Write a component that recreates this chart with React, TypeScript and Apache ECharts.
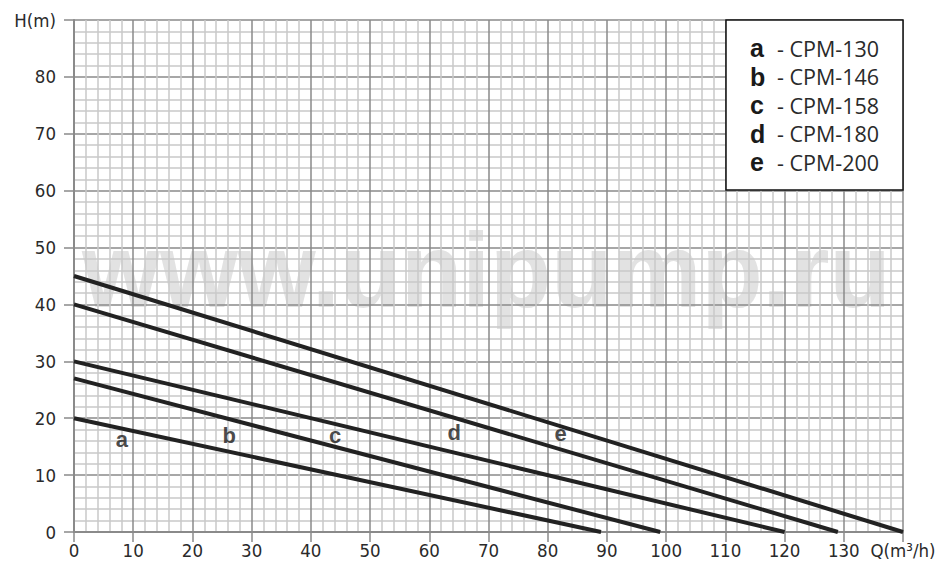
import React, { useEffect, useRef } from "react";
import * as echarts from "echarts";

const curveLetters = ["a", "b", "c", "d", "e"];
const modelNames = ["CPM-130", "CPM-146", "CPM-158", "CPM-180", "CPM-200"];
const curveA = [[0, 20], [89, 0]];
const curveB = [[0, 27], [99, 0]];
const curveC = [[0, 30], [120, 0]];
const curveD = [[0, 40], [129, 0]];
const curveE = [[0, 45], [140, 0]];
const curves = [curveA, curveB, curveC, curveD, curveE];
const letterQ = [8.1, 26.2, 44.1, 64.2, 82.2];
const letterH = [16.2, 17, 17, 17.5, 17.3];
const xMax = 140;
const yMax = 90;
const xName = "Q(m³/h)";
const yName = "H(m)";
const watermark = "www.unipump.ru";

export default function App() {
  const ref = useRef<HTMLDivElement>(null);
  useEffect(() => {
    if (!ref.current) return;
    const chart = echarts.init(ref.current, null, { renderer: "svg" });
    const major = "#8a8a8a";
    const minor = "#c9c9c9";
    const labelFont = "DejaVu Sans Condensed";
    const legendRows = curveLetters.map((l, i) => [
      {
        type: "text",
        x: 750,
        y: 48 + i * 28.5,
        z: 101,
        style: {
          text: l,
          font: "bold 25px 'Liberation Sans', Arial, sans-serif",
          fill: "#1a1a1a",
          verticalAlign: "middle",
          align: "left",
        },
      },
      {
        type: "text",
        x: 777,
        y: 48 + i * 28.5,
        z: 101,
        style: {
          text: "- " + modelNames[i],
          font: "21.5px 'Open Sans', sans-serif",
          fill: "#2a2a2a",
          verticalAlign: "middle",
          align: "left",
        },
      },
    ]).flat();
    chart.setOption({
      animation: false,
      backgroundColor: "#fff",
      grid: { left: 74, right: 41, top: 20, bottom: 40, containLabel: false },
      xAxis: {
        type: "value",
        min: 0,
        max: xMax,
        interval: 10,
        axisLine: { show: true, lineStyle: { color: major, width: 2 } },
        axisTick: { show: true, length: 10, lineStyle: { color: major, width: 1.5 } },
        minorTick: { show: false, splitNumber: 5 },
        splitLine: { show: true, lineStyle: { color: major, width: 1.5 } },
        minorSplitLine: { show: true, lineStyle: { color: minor, width: 1.5 } },
        axisLabel: {
          margin: 9,
          fontFamily: labelFont,
          fontSize: 18.5,
          color: "#2a2a2a",
          formatter: (v: number) => (v === xMax ? xName : String(v)),
        },
      },
      yAxis: {
        type: "value",
        min: 0,
        max: yMax,
        interval: 10,
        axisLine: { show: true, lineStyle: { color: major, width: 2 } },
        axisTick: { show: true, length: 10, lineStyle: { color: major, width: 1.5 } },
        minorTick: { show: false, splitNumber: 5 },
        splitLine: { show: true, lineStyle: { color: major, width: 1.5 } },
        minorSplitLine: { show: true, lineStyle: { color: minor, width: 1.5 } },
        axisLabel: {
          margin: 18,
          fontFamily: labelFont,
          fontSize: 18.5,
          color: "#2a2a2a",
          formatter: (v: number) => (v === yMax ? yName : String(v)),
        },
      },
      graphic: [
        {
          type: "text",
          x: 82,
          y: 271,
          z: -10,
          scaleX: 0.945,
          silent: true,
          style: {
            text: watermark,
            font: "bold 106px 'Liberation Sans', Arial, sans-serif",
            fill: "#e2e2e2",
            verticalAlign: "middle",
            align: "left",
          },
        },
        {
          type: "rect",
          z: 100,
          shape: { x: 726, y: 20, width: 177, height: 170 },
          style: { fill: "#fff", stroke: "#111", lineWidth: 1.5 },
        },
        ...legendRows,
      ],
      series: [
        ...curves.map((c, i) => ({
          type: "line",
          name: curveLetters[i],
          data: c,
          symbol: "none",
          z: 5,
          lineStyle: { color: "#222", width: 4 },
        })),
        {
          type: "scatter",
          symbolSize: 0,
          z: 6,
          data: letterQ.map((q, i) => [q, letterH[i], curveLetters[i]]),
          label: {
            show: true,
            position: "inside",
            formatter: (p: any) => p.value[2],
            fontFamily: "'Liberation Sans', Arial, sans-serif",
            fontWeight: "bold",
            fontSize: 22,
            color: "#1a1a1a",
          },
        },
      ],
    });
    return () => chart.dispose();
  }, []);
  return (
    <div
      ref={ref}
      style={{ position: "fixed", left: 0, top: 0, width: 944, height: 572, background: "#fff" }}
    />
  );
}
